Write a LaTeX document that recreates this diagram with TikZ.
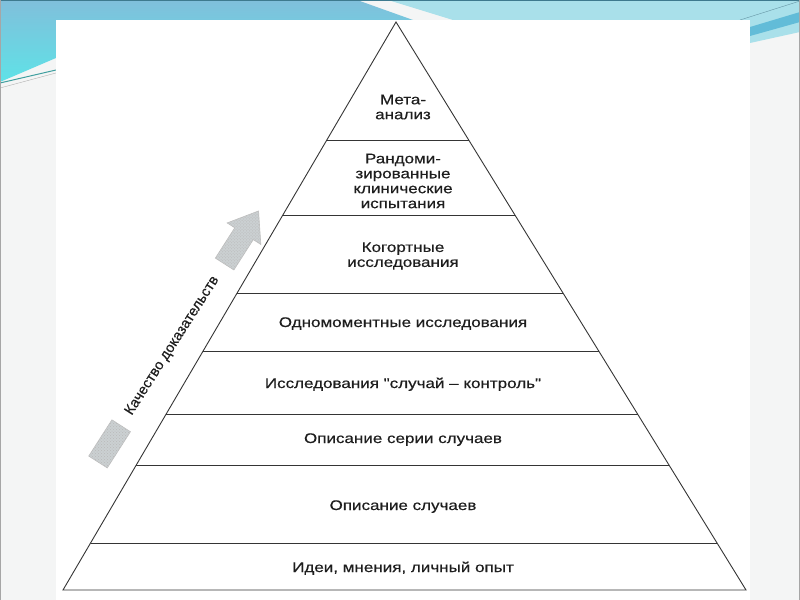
\documentclass[tikz,border=0pt]{standalone}
\usepackage{fontspec}
\setmainfont{Liberation Sans}
\newfontfamily\scanfont{Liberation Sans}[FakeBold=0.35]
\usetikzlibrary{calc,patterns}
\definecolor{ink}{HTML}{1E1E1E}
\definecolor{slide}{HTML}{F4F5F5}
\definecolor{bandblue}{HTML}{80BFDB}
\definecolor{bandcyan}{HTML}{5FE2E7}
\definecolor{bandlight}{HTML}{A9E0EA}
\definecolor{bandmid}{HTML}{62BCD8}
\definecolor{rim}{HTML}{3E7A8E}
\definecolor{arrowgray}{HTML}{CBD0D2}

\begin{document}
\begin{tikzpicture}[x=1bp,y=-1bp,
  level/.style={font=\scanfont\fontsize{14}{15}\selectfont,text=ink,align=center,xscale=1.22},
  edge/.style={ink!90,line width=0.9bp},
  blockarrow/.style={fill=arrowgray,draw=gray!50,line width=0.6bp,
    postaction={pattern=crosshatch dots,pattern color=gray!55}}]
  \useasboundingbox (0,0) rectangle (800,600);
  % slide background
  \fill[slide] (0,0) rectangle (800,600);
  \shade[top color=bandblue,bottom color=bandcyan]
    (0,0) -- (357,0) -- (413,20) -- (56,20) -- (56,58) -- (0,82) -- cycle;
  \fill[bandlight] (388,0) -- (800,0) -- (800,32) -- (750,43) -- (750,20)
    -- (453,20) -- cycle;
  \fill[bandmid] (750,27) -- (800,12) -- (800,22) -- (750,36) -- cycle;
  \draw[rim!80] (740,20) -- (800,1);
  \draw[teal!75,line width=1bp] (0,83) -- (56,70);
  \draw[gray!60] (0,88) -- (56,73);
  \draw[rim,line width=1.5bp] (0,0.75) -- (800,0.75);
  \draw[gray!70] (0.5,0) -- (0.5,600) (799.5,0) -- (799.5,600);
  % scanned figure
  \fill[white] (56,20) rectangle (750,600);

  \coordinate (apex) at (396,22);
  \coordinate (bl) at (63,590);
  \coordinate (br) at (746,590);
  \draw[edge,line join=miter] (bl) -- (apex) -- (br) -- cycle;
  \foreach \y in {140,215,293,351,414,465,543}{
    \pgfmathsetmacro\t{(\y-22)/568}
    \draw[edge] ($(apex)!\t!(bl)$) -- ($(apex)!\t!(br)$);
  }

  \node[level] (meta) at (403,107) {Мета-\\анализ};
  \node[level] (rct) at (403,181)
    {Рандоми-\\зированные\\клинические\\испытания};
  \node[level] (cohort) at (403,256) {Когортные\\исследования};
  \node[level,anchor=base] (cross) at (403,327) {Одномоментные исследования};
  \node[level,anchor=base] (casectrl) at (403,388)
    {Исследования \textquotedbl случай – контроль\textquotedbl};
  \node[level,anchor=base] (series) at (403,443) {Описание серии случаев};
  \node[level,anchor=base] (cases) at (403,510) {Описание случаев};
  \node[level,anchor=base] (opinion) at (403,572) {Идеи, мнения, личный опыт};

  % quality arrow
  \begin{scope}[shift={(98,462)},rotate=57.4]
    \draw[blockarrow] (0,-11) -- (43,-11) -- (43,11) -- (0,11) -- cycle;
    \draw[blockarrow] (235,-11) -- (271,-11) -- (271,-20) -- (298,0)
      -- (271,20) -- (271,11) -- (235,11) -- cycle;
    \node[transform shape,font=\scanfont\fontsize{14.5}{16}\selectfont,text=ink]
      (quality) at (138,0) {Качество доказательств};
  \end{scope}
\end{tikzpicture}
\end{document}
